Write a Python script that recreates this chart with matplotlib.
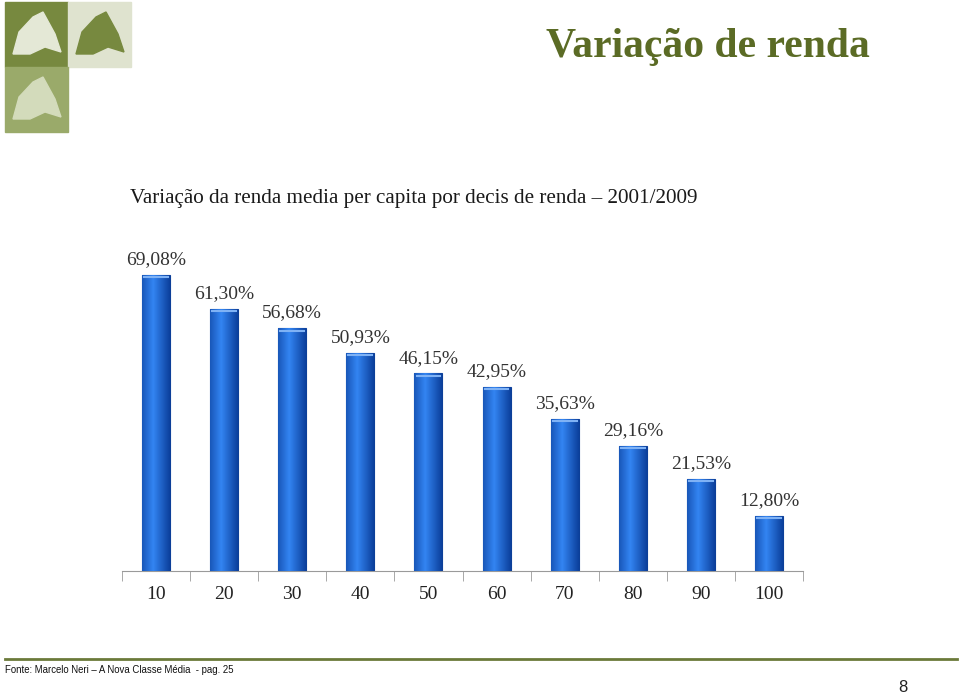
import numpy as np
import matplotlib.pyplot as plt
from matplotlib.patches import Rectangle, Polygon
from matplotlib.lines import Line2D

deciles = ['10', '20', '30', '40', '50', '60', '70', '80', '90', '100']
variacao = [69.08, 61.30, 56.68, 50.93, 46.15, 42.95, 35.63, 29.16, 21.53, 12.80]
labels = ['69,08%', '61,30%', '56,68%', '50,93%', '46,15%',
          '42,95%', '35,63%', '29,16%', '21,53%', '12,80%']

olive = '#5b6b25'
serif = ['Liberation Serif', 'DejaVu Serif']

fig = plt.figure(figsize=(9.6, 6.96), dpi=100)
W, H = 960, 696


def px(x, y):
    return x / W, 1 - y / H


# logo squares in the top-left corner
for (x0, y0, c, leaf) in [(5, 2, '#77893f', '#e4e8d6'),
                          (68, 2, '#dfe3cf', '#77893f'),
                          (5, 67, '#9aaa6a', '#d3dbbb')]:
    fig.patches.append(Rectangle(px(x0, y0 + 65), 63 / W, 65 / H,
                                 transform=fig.transFigure, color=c, zorder=0))
    pts = [(x0 + 8, y0 + 52), (x0 + 14, y0 + 30), (x0 + 28, y0 + 15),
           (x0 + 38, y0 + 10), (x0 + 50, y0 + 32), (x0 + 56, y0 + 50),
           (x0 + 40, y0 + 45), (x0 + 25, y0 + 52)]
    fig.patches.append(Polygon([px(a, b) for a, b in pts], closed=True,
                               transform=fig.transFigure, color=leaf, zorder=1))

fig.text(*px(708, 47), 'Variação de renda', ha='center', va='center',
         fontsize=30, fontweight='bold', color=olive, family=serif)

fig.text(*px(130, 198), 'Variação da renda media per capita por decis de renda \u2013 2001/2009',
         ha='left', va='center', fontsize=15.2, color='#1a1a1a', family=serif)

ax = fig.add_axes([122 / W, 125 / H, 681 / W, 321 / H])
x = np.arange(len(deciles))
bars = ax.bar(x, variacao, width=0.41, color='#1e6ad8', edgecolor='#0c3f98',
              linewidth=0.8, zorder=2)

# horizontal shading on each bar
grad = np.linspace(0, 1, 64)
shade = 1 - np.abs(grad - 0.4) * 1.6
shade = np.clip(shade, 0, 1)
cols = np.zeros((1, 64, 3))
dark = np.array([0.04, 0.24, 0.60])
light = np.array([0.20, 0.52, 0.95])
for i in range(64):
    cols[0, i] = dark + (light - dark) * shade[i]
for b in bars:
    x0, w, h = b.get_x(), b.get_width(), b.get_height()
    im = ax.imshow(cols, extent=[x0, x0 + w, 0, h], aspect='auto', zorder=3)
    im.set_clip_path(b)
    ax.add_line(Line2D([x0 + 0.03, x0 + w - 0.03], [h - 0.5, h - 0.5],
                       color='#7fb2f5', lw=1.5, zorder=4))

for xi, v, lab in zip(x, variacao, labels):
    ax.text(xi, v + 1.6, lab, ha='center', va='bottom', fontsize=14,
            color='#333333', family=serif)

ax.set_xlim(-0.5, len(deciles) - 0.5)
ax.set_ylim(0, 75)
for s in ['top', 'right', 'left']:
    ax.spines[s].set_visible(False)
ax.spines['bottom'].set_color('#9a9a9a')
ax.set_yticks([])
ax.set_xticks(x)
ax.set_xticklabels(deciles, family=serif, fontsize=14, color='#222222')
ax.tick_params(axis='x', which='major', length=0, pad=11)
ax.set_xticks(np.arange(-0.5, len(deciles), 1), minor=True)
ax.tick_params(axis='x', which='minor', length=7, color='#9a9a9a', direction='out')

# footer rule, source and page number
fig.add_artist(Line2D([5 / W, 957 / W], [1 - 659 / H, 1 - 659 / H],
                      color='#6b7a3a', lw=2, transform=fig.transFigure))
fig.text(*px(5, 670), 'Fonte: Marcelo Neri \u2013 A Nova Classe Média  - pag. 25',
         ha='left', va='center', fontsize=6.9, family=['Liberation Sans Narrow', 'Liberation Sans'],
         color='#111111')
fig.text(*px(903, 688), '8', ha='center', va='center', fontsize=12,
         family=['Liberation Sans Narrow', 'Liberation Sans'], color='#222222')

fig.savefig('out.png', dpi=100)
